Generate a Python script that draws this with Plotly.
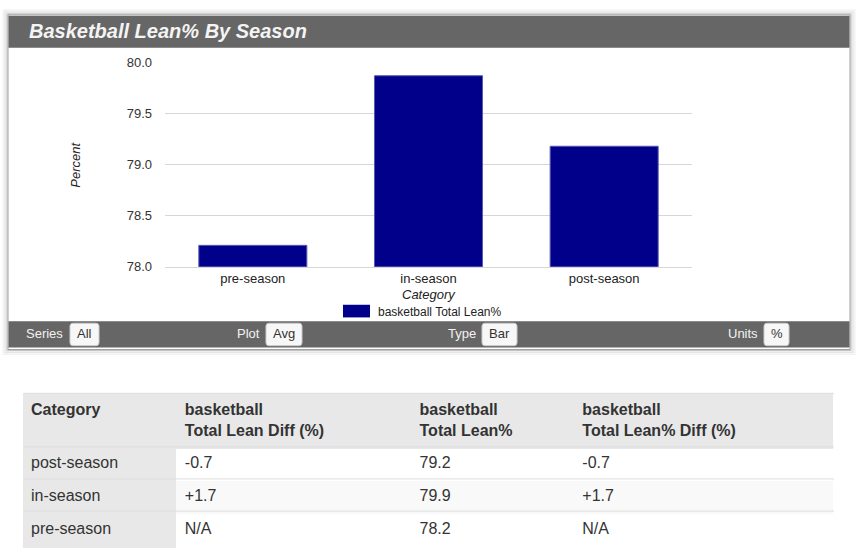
import plotly.graph_objects as go

W, H = 858, 557

categories = ['pre-season', 'in-season', 'post-season']
lean_pct = [78.21, 79.87, 79.18]
series_name = 'basketball Total Lean%'

y_ticks = [78.0, 78.5, 79.0, 79.5, 80.0]

toolbar_labels = ['Series', 'Plot', 'Type', 'Units']
toolbar_buttons = ['All', 'Avg', 'Bar', '%']

table_header = ['Category', 'basketball<br>Total Lean Diff (%)',
                'basketball<br>Total Lean%', 'basketball<br>Total Lean% Diff (%)']
table_category = ['post-season', 'in-season', 'pre-season']
table_lean_diff = ['-0.7', '+1.7', 'N/A']
table_lean = ['79.2', '79.9', '78.2']
table_lean_pct_diff = ['-0.7', '+1.7', 'N/A']

FONT = 'Arial, Liberation Sans, sans-serif'
BAR = '#00008b'
DARK = '#666666'
HEAD = '#e8e8e8'


def px(x):
    return x / W


def py(y):
    return 1 - y / H


def rect(x0, y0, x1, y1, fill, line=None, layer='below'):
    return dict(type='rect', xref='paper', yref='paper',
                x0=px(x0), x1=px(x1), y0=py(y1), y1=py(y0),
                fillcolor=fill, layer=layer,
                line=dict(width=1 if line else 0, color=line or fill))


def hline(y, x0, x1, color):
    return dict(type='line', xref='paper', yref='paper', layer='above',
                x0=px(x0), x1=px(x1), y0=py(y), y1=py(y),
                line=dict(color=color, width=1))


def rounded(x0, y0, x1, y1, r=3):
    pts = [('M', (x0 + r, y0)), ('L', (x1 - r, y0)), ('Q', (x1, y0), (x1, y0 + r)),
           ('L', (x1, y1 - r)), ('Q', (x1, y1), (x1 - r, y1)), ('L', (x0 + r, y1)),
           ('Q', (x0, y1), (x0, y1 - r)), ('L', (x0, y0 + r)), ('Q', (x0, y0), (x0 + r, y0))]
    path = ''
    for p in pts:
        path += p[0] + ' '.join('%f,%f' % (px(a), py(b)) for a, b in p[1:]) + ' '
    return path + 'Z'


fig = go.Figure()

fig.add_trace(go.Bar(
    x=categories, y=lean_pct, name=series_name,
    marker=dict(color=BAR, line=dict(width=1, color='#5a5ab0')),
    showlegend=False, xaxis='x', yaxis='y'
))

# table below the chart
fill_first = [HEAD] * len(table_category)
fill_other = ['#ffffff' if i % 2 == 0 else '#f9f9f9' for i in range(len(table_category))]
cell_fill = [fill_first, fill_other, fill_other, fill_other]
fig.add_trace(go.Table(
    domain=dict(x=[px(23), px(834)], y=[0, py(397)]),
    columnwidth=[154, 235, 163, 259],
    header=dict(values=['<b>%s</b>' % h for h in table_header],
                fill_color=HEAD, line=dict(width=1, color=HEAD),
                align='left', height=55,
                font=dict(family=FONT, size=16, color='#333333')),
    cells=dict(values=[table_category, table_lean_diff, table_lean, table_lean_pct_diff],
               fill_color=cell_fill, line=dict(width=1, color=cell_fill),
               align='left', height=33,
               font=dict(family=FONT, size=16, color='#333333'))
))

shapes = [
    rect(3, 3, 855, 357, '#f6f6f6', '#f0f0f0'),
    rect(5, 5, 853, 355, '#eeeeee', '#e4e4e4'),
    rect(7, 7, 851, 353, '#ffffff', '#c4c4c4'),
    rect(8, 8, 850, 352, '#ffffff', '#a0a0a0'),
    rect(8.5, 9, 849.5, 42, DARK),
    rect(8.5, 323, 849.5, 350, DARK),
    rect(343, 306, 370, 319, BAR),
]
shapes.append(hline(397, 24, 834, '#dedede'))
for yy in [452, 485, 518]:
    shapes.append(hline(yy, 24, 834, '#dddddd'))

annotations = [
    dict(text='<b><i>Basketball Lean% By Season</i></b>', x=px(27), y=py(25),
         font=dict(family=FONT, size=20, color='#f4f4f4')),
    dict(text='<i>Percent</i>', x=px(76), y=py(162), textangle=-90, xanchor='center',
         font=dict(family=FONT, size=13, color='#222222')),
    dict(text='<i>Category</i>', x=px(429), y=py(295), xanchor='center',
         font=dict(family=FONT, size=13, color='#222222')),
    dict(text=series_name, x=px(376), y=py(313),
         font=dict(family=FONT, size=12, color='#222222')),
]

label_x = [24, 235, 446, 726]
button_x = [(70, 99), (266, 302), (482, 517), (764, 789)]
for lab, btn, lx, (b0, b1) in zip(toolbar_labels, toolbar_buttons, label_x, button_x):
    shapes.append(dict(type='path', xref='paper', yref='paper', layer='below',
                       path=rounded(b0, 325, b1, 348), fillcolor='#f7f7f7',
                       line=dict(color='#cccccc', width=1)))
    annotations.append(dict(text=lab, x=px(lx), y=py(336),
                            font=dict(family=FONT, size=13, color='#f2f2f2')))
    annotations.append(dict(text=btn, x=px((b0 + b1) / 2), y=py(336), xanchor='center',
                            font=dict(family=FONT, size=13, color='#333333')))

for a in annotations:
    a.update(xref='paper', yref='paper', showarrow=False)
    a.setdefault('xanchor', 'left')
    a.setdefault('yanchor', 'middle')

fig.update_layout(
    width=W, height=H,
    margin=dict(l=0, r=0, t=0, b=0),
    paper_bgcolor='#ffffff', plot_bgcolor='rgba(0,0,0,0)',
    font=dict(family=FONT, size=13, color='#222222'),
    bargap=0.385,
    showlegend=False,
    shapes=shapes,
    annotations=annotations,
    xaxis=dict(domain=[px(165), px(692)], type='category', showgrid=False,
               showline=True, linecolor='#d6d6d6', linewidth=1, ticks='',
               tickfont=dict(family=FONT, size=13, color='#222222')),
    yaxis=dict(domain=[py(267), py(57)], range=[78, 80], tickvals=y_ticks,
               ticktext=['%.1f' % v for v in y_ticks], showgrid=True,
               gridcolor='#d6d6d6', zeroline=False, ticklabelstandoff=12,
               tickfont=dict(family=FONT, size=13, color='#333333')),
)

# pin the figure to the window corner, no page margin or scrolling
pin = ("var d=document.getElementById('{plot_id}');"
       "d.style.position='fixed';d.style.top='0';d.style.left='0';"
       "document.body.style.margin='0';document.body.style.overflow='hidden';"
       "document.documentElement.style.overflow='hidden';")
fig.write_html("out.html", config={'displayModeBar': False}, post_script=pin)
